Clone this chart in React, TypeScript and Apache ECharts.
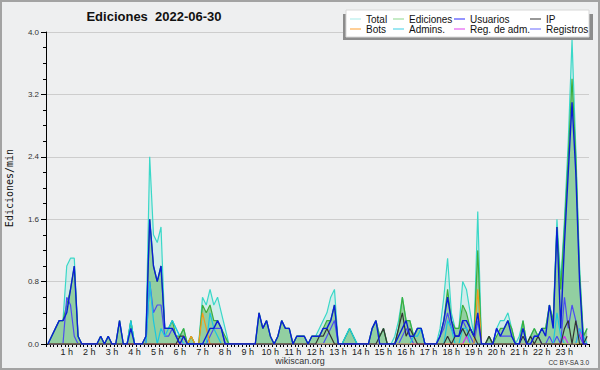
import React, { useEffect, useRef } from 'react';
import * as echarts from 'echarts';

// 10-minute buckets, 6 per hour, 144 per day (edits per minute)
const TOTAL = [
  0, 0.1, 0.2, 0.3, 0.3, 1.0,
  1.1, 1.1, 0.1, 0, 0, 0,
  0, 0, 0.1, 0, 0.1, 0,
  0, 0.3, 0, 0, 0.3, 0,
  0, 0, 0.1, 2.4, 1.4, 1.3,
  1.5, 0.2, 0.2, 0.3, 0.2, 0.1,
  0.2, 0, 0.1, 0, 0, 0.6,
  0.5, 0.7, 0.5, 0.6, 0.4, 0.2,
  0, 0, 0, 0, 0, 0,
  0, 0, 0.4, 0.2, 0.3, 0.1,
  0, 0.1, 0.3, 0.2, 0.2, 0,
  0.1, 0.1, 0.1, 0, 0.1, 0.1,
  0.2, 0.3, 0.4, 0.6, 0.7, 0,
  0, 0.1, 0.2, 0.1, 0, 0,
  0, 0, 0.2, 0.3, 0.1, 0.2,
  0, 0, 0.1, 0.3, 0.6, 0.3,
  0.3, 0.1, 0.2, 0.2, 0, 0,
  0, 0, 0.2, 0.6, 1.1, 0.4,
  0.2, 0.2, 0.8, 0.7, 0.4, 0.1,
  1.7, 0, 0, 0.1, 0, 0.2,
  0.3, 0.3, 0.4, 0.2, 0, 0.1,
  0.3, 0, 0.1, 0.2, 0.1, 0.2,
  0.2, 0.5, 0.3, 1.6, 0.8, 1.6,
  2.6, 3.9, 2.5, 1.0, 0.1, 0.2,
];

const EDICIONES = [
  0, 0.1, 0.2, 0.3, 0.3, 0.5,
  0.7, 1.0, 0.1, 0, 0, 0,
  0, 0, 0.1, 0, 0.1, 0,
  0, 0.3, 0, 0, 0.3, 0,
  0, 0, 0.1, 1.6, 1.0, 0.8,
  1.0, 0.2, 0.2, 0.3, 0.1, 0.1,
  0.2, 0, 0.1, 0, 0, 0.5,
  0.4, 0.5, 0.3, 0.3, 0.2, 0.1,
  0, 0, 0, 0, 0, 0,
  0, 0, 0.4, 0.2, 0.3, 0.1,
  0, 0.1, 0.3, 0.2, 0.2, 0,
  0.1, 0.1, 0.1, 0, 0.1, 0.1,
  0.1, 0.2, 0.3, 0.3, 0.5, 0,
  0, 0.1, 0.2, 0.1, 0, 0,
  0, 0, 0.2, 0.3, 0.1, 0.2,
  0, 0, 0, 0.2, 0.6, 0.3,
  0.3, 0.1, 0.2, 0.2, 0, 0,
  0, 0, 0.1, 0.3, 0.7, 0.3,
  0.2, 0.2, 0.5, 0.4, 0.2, 0.1,
  1.2, 0, 0, 0.1, 0, 0.1,
  0.2, 0.2, 0.3, 0.2, 0, 0,
  0.3, 0, 0.1, 0.2, 0.1, 0.2,
  0.2, 0.5, 0.3, 1.5, 0.7, 1.5,
  2.4, 3.4, 2.4, 0.9, 0.1, 0.2,
];

const USUARIOS = [
  0, 0.1, 0.2, 0.3, 0.3, 0.4,
  0.7, 1.0, 0.1, 0, 0, 0,
  0, 0, 0.1, 0, 0.1, 0,
  0, 0.3, 0, 0, 0.2, 0,
  0, 0, 0.1, 1.6, 1.0, 0.8,
  1.0, 0.2, 0.2, 0.2, 0.1, 0,
  0.1, 0, 0, 0, 0, 0,
  0.1, 0.2, 0.2, 0.3, 0.2, 0,
  0, 0, 0, 0, 0, 0,
  0, 0, 0.4, 0.2, 0.3, 0.1,
  0, 0.1, 0.3, 0.2, 0.2, 0,
  0.1, 0.1, 0.1, 0, 0.1, 0.1,
  0.1, 0.2, 0.2, 0.3, 0.5, 0,
  0, 0, 0, 0, 0, 0,
  0, 0, 0.2, 0.3, 0, 0,
  0, 0, 0, 0.1, 0.2, 0.3,
  0.1, 0.1, 0.2, 0.2, 0, 0,
  0, 0, 0.1, 0.3, 0.6, 0.3,
  0.1, 0.1, 0.3, 0.3, 0.2, 0.1,
  0.4, 0, 0, 0, 0, 0.2,
  0.1, 0.2, 0.3, 0.1, 0, 0,
  0.2, 0, 0, 0.1, 0.1, 0.2,
  0.1, 0.5, 0.2, 1.5, 0.2, 1.3,
  2.2, 3.1, 2.2, 0.8, 0, 0,
];

const IP = [
  0, 0, 0, 0, 0, 0,
  0, 0, 0, 0, 0, 0,
  0, 0, 0, 0, 0, 0,
  0, 0, 0, 0, 0, 0,
  0, 0, 0, 0, 0, 0,
  0, 0, 0, 0, 0, 0.1,
  0.1, 0, 0, 0, 0, 0,
  0, 0, 0, 0, 0, 0,
  0, 0, 0, 0, 0, 0,
  0, 0, 0, 0, 0, 0,
  0, 0, 0, 0, 0, 0,
  0, 0, 0, 0, 0, 0,
  0.1, 0.1, 0.2, 0.1, 0, 0,
  0, 0, 0, 0, 0, 0,
  0, 0, 0, 0, 0.1, 0.2,
  0, 0, 0, 0.2, 0.4, 0.1,
  0.2, 0.1, 0, 0, 0, 0,
  0, 0, 0, 0, 0.1, 0,
  0.1, 0.1, 0.2, 0.1, 0.2, 0.1,
  0, 0, 0, 0.1, 0, 0,
  0, 0, 0, 0, 0, 0,
  0.1, 0, 0.1, 0, 0.1, 0,
  0, 0, 0, 0, 0, 0.2,
  0.3, 0, 0.3, 0, 0, 0.1,
];

const BOTS = [
  0, 0, 0, 0, 0, 0,
  0, 0, 0, 0, 0, 0,
  0, 0, 0, 0, 0, 0,
  0, 0, 0, 0, 0, 0,
  0, 0, 0, 0, 0, 0,
  0, 0, 0, 0, 0, 0,
  0.1, 0, 0.1, 0, 0, 0.4,
  0.2, 0, 0, 0, 0, 0,
  0, 0, 0, 0, 0, 0,
  0, 0, 0, 0, 0, 0,
  0, 0, 0, 0, 0, 0,
  0, 0, 0, 0, 0, 0,
  0, 0, 0, 0, 0, 0,
  0, 0, 0, 0, 0, 0,
  0, 0, 0, 0, 0, 0,
  0, 0, 0, 0, 0, 0,
  0, 0, 0, 0, 0, 0,
  0, 0, 0, 0, 0, 0,
  0, 0, 0, 0, 0, 0,
  0.7, 0, 0, 0, 0, 0,
  0, 0, 0, 0, 0, 0,
  0, 0, 0, 0, 0, 0,
  0, 0, 0, 0, 0, 0,
  0, 0, 0, 0, 0, 0,
];

const ADMINS = [
  0, 0, 0, 0, 0, 0,
  0, 0, 0, 0, 0, 0,
  0, 0, 0, 0, 0, 0,
  0, 0, 0, 0, 0.3, 0,
  0, 0, 0, 0.8, 0.3, 0,
  0.2, 0.1, 0.2, 0.3, 0.2, 0.1,
  0, 0, 0, 0, 0, 0,
  0, 0.4, 0.2, 0.1, 0, 0,
  0, 0, 0, 0, 0, 0,
  0, 0, 0, 0, 0, 0,
  0, 0, 0, 0, 0, 0,
  0, 0, 0, 0, 0, 0,
  0, 0, 0, 0, 0, 0,
  0, 0.1, 0.2, 0.1, 0, 0,
  0, 0, 0, 0, 0, 0,
  0, 0, 0, 0, 0, 0,
  0, 0.1, 0.1, 0.2, 0, 0,
  0, 0, 0, 0, 0.3, 0.2,
  0, 0, 0.2, 0.2, 0, 0,
  0, 0, 0, 0, 0, 0,
  0, 0, 0, 0, 0, 0,
  0, 0, 0, 0, 0, 0,
  0, 0, 0, 0.4, 0.1, 0,
  0, 0, 0, 0.2, 0.1, 0,
];

const REG_ADM = [
  0, 0, 0, 0, 0, 0,
  0, 0, 0, 0, 0, 0,
  0, 0, 0, 0, 0, 0,
  0, 0, 0, 0, 0, 0,
  0, 0, 0, 0, 0, 0,
  0, 0, 0, 0, 0, 0,
  0, 0, 0, 0, 0, 0,
  0, 0, 0, 0, 0, 0,
  0, 0, 0, 0, 0, 0,
  0, 0, 0, 0, 0, 0,
  0, 0, 0, 0, 0, 0,
  0, 0, 0, 0, 0, 0,
  0, 0, 0, 0, 0, 0,
  0, 0, 0, 0, 0, 0,
  0, 0, 0, 0, 0, 0,
  0, 0, 0, 0, 0, 0,
  0, 0, 0, 0, 0, 0,
  0, 0, 0, 0, 0, 0,
  0, 0, 0, 0.1, 0, 0,
  0, 0, 0, 0, 0, 0,
  0, 0, 0, 0, 0, 0,
  0, 0, 0, 0, 0, 0,
  0, 0, 0, 0, 0, 0.1,
  0, 0, 0, 0.2, 0, 0,
];

const REGISTROS = [
  0, 0, 0, 0, 0, 0.6,
  0.5, 0.1, 0, 0, 0, 0,
  0, 0, 0, 0, 0, 0,
  0, 0, 0, 0, 0, 0,
  0, 0, 0, 0.8, 0.4, 0.5,
  0.5, 0.1, 0.1, 0.2, 0.1, 0,
  0, 0, 0, 0, 0, 0,
  0, 0.1, 0.2, 0.2, 0.2, 0,
  0, 0, 0, 0, 0, 0,
  0, 0, 0, 0, 0, 0,
  0, 0, 0, 0, 0, 0,
  0, 0, 0, 0, 0, 0,
  0, 0, 0.1, 0.2, 0.3, 0,
  0, 0, 0, 0, 0, 0,
  0, 0, 0, 0, 0, 0,
  0, 0, 0, 0, 0.1, 0.2,
  0.1, 0, 0, 0, 0, 0,
  0, 0, 0.1, 0.2, 0.4, 0.2,
  0.1, 0.1, 0.3, 0.2, 0.1, 0,
  0.3, 0, 0, 0, 0, 0.2,
  0.1, 0.1, 0.1, 0.1, 0, 0,
  0, 0, 0, 0.1, 0.1, 0,
  0, 0.1, 0, 0.1, 0, 0.6,
  0.2, 0.5, 0.3, 0.1, 0, 0,
];

const HOUR_LABELS = [
  '1 h', '2 h', '3 h', '4 h', '5 h', '6 h', '7 h', '8 h', '9 h', '10 h', '11 h', '12 h',
  '13 h', '14 h', '15 h', '16 h', '17 h', '18 h', '19 h', '20 h', '21 h', '22 h', '23 h',
];

const TITLE = 'Ediciones  2022-06-30';
const Y_NAME = 'Ediciones/min';

const FONT = 'Liberation Sans, Arial, sans-serif';

// thin horizontal bar inside an 11x10 box (tiny corner dots keep the box size)
const LINE_ICON =
  'path://M0,0L0.01,0L0.01,0.01Z M0,4.4L11,4.4L11,5.6L0,5.6Z M10.99,9.99L11,9.99L11,10Z';

function toPoints(values: number[]) {
  return values.map((v, i) => [i + 0.5, v]);
}

function lineSeries(name: string, values: number[], color: string, width: number, z: number, area?: string) {
  const s: any = {
    type: 'line',
    name,
    data: toPoints(values),
    symbol: 'none',
    showSymbol: false,
    silent: true,
    z,
    lineStyle: { color, width },
    itemStyle: { color },
    emphasis: { disabled: true },
  };
  if (area) s.areaStyle = { color: area, origin: 'start', opacity: 1 };
  return s;
}

export default function App() {
  const ref = useRef<HTMLDivElement>(null);

  useEffect(() => {
    if (!ref.current) return;
    const chart = echarts.init(ref.current, undefined, { renderer: 'svg' });

    const legendBase = {
      orient: 'vertical',
      top: 14,
      padding: 0,
      itemWidth: 11,
      itemHeight: 10,
      itemGap: 0,
      icon: LINE_ICON,
      selectedMode: false,
      textStyle: { fontSize: 10, fontFamily: FONT, color: '#111', lineHeight: 10 },
    };

    const option: any = {
      animation: false,
      backgroundColor: '#eeeff0',
      grid: { left: 46, right: 11, top: 32, bottom: 26, containLabel: false },
      xAxis: {
        type: 'value',
        min: 0,
        max: 144,
        interval: 6,
        axisLine: { show: true, lineStyle: { color: '#000', width: 1 } },
        axisTick: { show: true, length: 3, lineStyle: { color: '#000' } },
        minorTick: { show: true, splitNumber: 6, length: 3, lineStyle: { color: '#000' } },
        splitLine: { show: false },
        axisLabel: {
          fontSize: 9,
          fontFamily: FONT,
          color: '#222',
          margin: 3,
          padding: [0, 4, 0, 0],
          showMinLabel: false,
          showMaxLabel: false,
          formatter: (v: number) => {
            const k = Math.round(v / 6);
            return k >= 1 && k <= HOUR_LABELS.length ? HOUR_LABELS[k - 1] : '';
          },
        },
      },
      yAxis: {
        type: 'value',
        min: 0,
        max: 4,
        interval: 0.8,
        axisLine: { show: true, lineStyle: { color: '#000', width: 1 } },
        axisTick: { show: true, length: 5, lineStyle: { color: '#000' } },
        minorTick: { show: true, splitNumber: 4, length: 3, lineStyle: { color: '#000' } },
        splitLine: { show: true, lineStyle: { color: '#cdcdcd', width: 1 } },
        axisLabel: {
          fontSize: 8,
          fontFamily: FONT,
          color: '#333',
          margin: 7,
          formatter: (v: number) => v.toFixed(1),
        },
      },
      legend: [
        {
          ...legendBase,
          left: 350,
          data: [
            { name: 'Total', itemStyle: { color: '#a8ecea' } },
            { name: 'Bots', itemStyle: { color: '#ffa030' } },
          ],
        },
        {
          ...legendBase,
          left: 393,
          data: [
            { name: 'Ediciones', itemStyle: { color: '#8ed88e' } },
            { name: 'Admins.', itemStyle: { color: '#3ccfe6' } },
          ],
        },
        {
          ...legendBase,
          left: 454,
          data: [
            { name: 'Usuarios', itemStyle: { color: '#2a2aff' } },
            { name: 'Reg. de adm.', itemStyle: { color: '#e040f0' } },
          ],
        },
        {
          ...legendBase,
          left: 530,
          data: [
            { name: 'IP', itemStyle: { color: '#333333' } },
            { name: 'Registros', itemStyle: { color: '#6a6aff' } },
          ],
        },
      ],
      series: [
        lineSeries('Total', TOTAL, '#3ad8c8', 1.2, 2, 'rgba(64,224,208,0.16)'),
        lineSeries('Ediciones', EDICIONES, '#3cae3c', 1.2, 3, 'rgba(60,168,60,0.42)'),
        lineSeries('Registros', REGISTROS, '#4c4cf2', 1.2, 4),
        lineSeries('Reg. de adm.', REG_ADM, '#d030f0', 1.2, 5),
        lineSeries('Admins.', ADMINS, '#1cc6e0', 1.2, 6),
        lineSeries('Bots', BOTS, '#f59a1a', 1.2, 7),
        lineSeries('IP', IP, '#333333', 1.2, 8),
        lineSeries('Usuarios', USUARIOS, '#0a1ed6', 1.4, 9),
      ],
      graphic: [
        {
          type: 'rect',
          z: 3,
          shape: { x: 343, y: 14, width: 250, height: 26 },
          style: { fill: '#8c8c8c' },
          silent: true,
        },
        {
          type: 'rect',
          z: 3,
          shape: { x: 346, y: 10, width: 243, height: 27 },
          style: { fill: '#ffffff', stroke: '#d8d8d8', lineWidth: 1 },
          silent: true,
        },
        {
          type: 'text',
          z: 5,
          x: 154,
          y: 16,
          style: {
            text: TITLE,
            fontSize: 13,
            fontWeight: 'bold',
            fontFamily: FONT,
            fill: '#111',
            align: 'center',
            verticalAlign: 'middle',
          },
          silent: true,
        },
        {
          type: 'text',
          z: 5,
          x: 9,
          y: 188,
          rotation: Math.PI / 2,
          style: {
            text: Y_NAME,
            fontSize: 10,
            fontFamily: 'DejaVu Sans Mono, monospace',
            fill: '#111',
            align: 'center',
            verticalAlign: 'middle',
          },
          silent: true,
        },
        {
          type: 'text',
          z: 5,
          x: 300,
          y: 361,
          style: {
            text: 'wikiscan.org',
            fontSize: 9,
            fontFamily: FONT,
            fill: '#333',
            align: 'center',
            verticalAlign: 'middle',
          },
          silent: true,
        },
        {
          type: 'text',
          z: 5,
          x: 589,
          y: 362,
          style: {
            text: 'CC BY-SA 3.0',
            fontSize: 6.5,
            fontFamily: FONT,
            fill: '#333',
            align: 'right',
            verticalAlign: 'middle',
          },
          silent: true,
        },
        {
          type: 'rect',
          z: 10,
          shape: { x: 1, y: 1, width: 598, height: 368 },
          style: { fill: 'none', stroke: '#a3a3a3', lineWidth: 2 },
          silent: true,
        },
      ],
    };

    chart.setOption(option);
    return () => chart.dispose();
  }, []);

  return (
    <div
      ref={ref}
      style={{ position: 'fixed', left: 0, top: 0, width: 600, height: 370 }}
    />
  );
}
